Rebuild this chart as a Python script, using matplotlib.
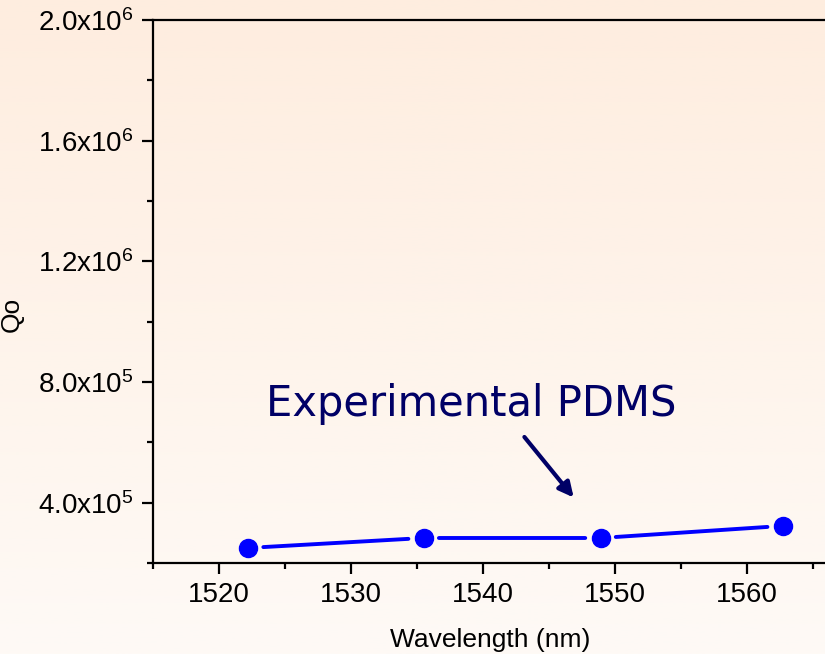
import numpy as np
import matplotlib
matplotlib.use('Agg')
import matplotlib.pyplot as plt
from matplotlib.ticker import MultipleLocator, FixedLocator

plt.rcParams['font.family'] = ['Liberation Sans', 'DejaVu Sans']
plt.rcParams['mathtext.fontset'] = 'custom'
plt.rcParams['mathtext.rm'] = 'Liberation Sans'
plt.rcParams['mathtext.it'] = 'Liberation Sans'

# measured quality factor vs. wavelength
wavelength = [1522.2, 1535.5, 1548.9, 1562.7]
q0 = [2.50e5, 2.83e5, 2.83e5, 3.23e5]

y_ticks = [4e5, 8e5, 1.2e6, 1.6e6, 2.0e6]
y_tick_labels = [r'$4.0\mathrm{x}10^{5}$', r'$8.0\mathrm{x}10^{5}$',
                 r'$1.2\mathrm{x}10^{6}$', r'$1.6\mathrm{x}10^{6}$',
                 r'$2.0\mathrm{x}10^{6}$']
x_ticks = [1520, 1530, 1540, 1550, 1560]

fig = plt.figure(figsize=(8.25, 6.54), dpi=100)

# peach-to-cream vertical gradient behind everything
bg = fig.add_axes([0, 0, 1, 1], zorder=-10)
grad = np.linspace(0, 1, 256).reshape(-1, 1)
top = np.array([254, 237, 223]) / 255
bottom = np.array([254, 250, 246]) / 255
img = top + (bottom - top) * grad[:, :, None]
bg.imshow(img, aspect='auto', extent=[0, 1, 0, 1])
bg.axis('off')

ax = fig.add_axes([0.1855, 0.1391, 0.88, 0.8303])
ax.patch.set_alpha(0)
ax.set_xlim(1515, 1570)
ax.set_ylim(2e5, 2e6)

for s in ax.spines.values():
    s.set_linewidth(1.6)
    s.set_color('black')

ax.xaxis.set_major_locator(FixedLocator(x_ticks))
ax.xaxis.set_minor_locator(MultipleLocator(5))
ax.yaxis.set_major_locator(FixedLocator(y_ticks))
ax.yaxis.set_minor_locator(MultipleLocator(2e5))
ax.set_yticklabels(y_tick_labels)
ax.tick_params(which='major', direction='out', length=8, width=1.6,
               labelsize=20, pad=6, top=False, right=False)
ax.tick_params(which='minor', direction='out', length=4, width=1.6,
               top=False, right=False)

# line segments stop short of each symbol
for i in range(len(wavelength) - 1):
    ax.annotate('', xy=(wavelength[i + 1], q0[i + 1]),
                xytext=(wavelength[i], q0[i]),
                arrowprops=dict(arrowstyle='-', color='#0000ff', lw=2.8,
                                shrinkA=11, shrinkB=11))
ax.plot(wavelength, q0, 'o', color='#0000ff', markersize=13, zorder=3,
        clip_on=False)

ax.text(1539.1, 6.87e5, 'Experimental PDMS', color='#000066', fontsize=30,
        family='DejaVu Sans', ha='center', va='baseline')
ax.annotate('', xy=(1547.0, 4.1e5), xytext=(1543.0, 6.25e5),
            arrowprops=dict(arrowstyle='-|>', color='#000066', lw=3,
                            mutation_scale=22))

ax.set_xlabel('Wavelength (nm)', fontsize=19)
ax.set_ylabel('Qo', fontsize=19)
ax.xaxis.set_label_coords((490 - 153) / 726, -0.12)
ax.yaxis.set_label_coords((24 - 153) / 726, 0.457)

fig.savefig('out.png', dpi=100)
